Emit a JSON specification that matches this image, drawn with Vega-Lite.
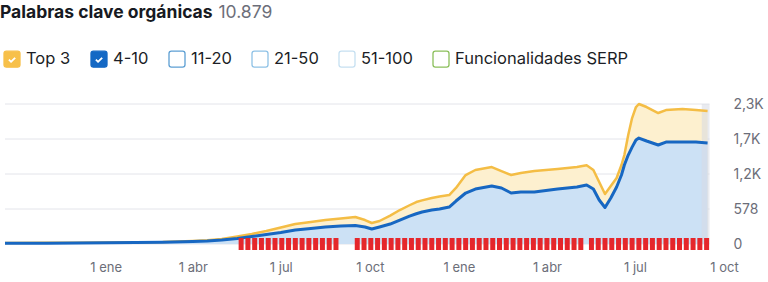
{
  "$schema": "https://vega.github.io/schema/vega-lite/v6.json",
  "width": 730,
  "height": 140,
  "autosize": {"type": "none"},
  "padding": {"left": 0, "top": 104, "right": 38, "bottom": 38},
  "background": "#ffffff",
  "config": {
    "view": {"stroke": null},
    "font": "Inter",
    "legend": {"symbolStrokeWidth": 1.3}
  },
  "datasets": {
    "series": [
      {"date": "2022-09-19", "top": 17, "b": 12},
      {"date": "2022-11-01", "top": 20, "b": 13},
      {"date": "2022-12-01", "top": 22, "b": 17},
      {"date": "2023-01-01", "top": 25, "b": 20},
      {"date": "2023-02-01", "top": 29, "b": 25},
      {"date": "2023-03-01", "top": 33, "b": 30},
      {"date": "2023-04-01", "top": 50, "b": 41},
      {"date": "2023-04-16", "top": 62, "b": 50},
      {"date": "2023-05-01", "top": 83, "b": 66},
      {"date": "2023-05-17", "top": 124, "b": 91},
      {"date": "2023-06-01", "top": 165, "b": 124},
      {"date": "2023-06-16", "top": 215, "b": 157},
      {"date": "2023-07-01", "top": 272, "b": 190},
      {"date": "2023-07-16", "top": 330, "b": 231},
      {"date": "2023-08-01", "top": 363, "b": 256},
      {"date": "2023-08-16", "top": 396, "b": 281},
      {"date": "2023-09-01", "top": 421, "b": 297},
      {"date": "2023-09-16", "top": 446, "b": 305},
      {"date": "2023-09-26", "top": 396, "b": 281},
      {"date": "2023-10-03", "top": 347, "b": 248},
      {"date": "2023-10-11", "top": 380, "b": 281},
      {"date": "2023-10-22", "top": 470, "b": 330},
      {"date": "2023-11-01", "top": 561, "b": 396},
      {"date": "2023-11-11", "top": 640, "b": 460},
      {"date": "2023-11-18", "top": 693, "b": 500},
      {"date": "2023-11-24", "top": 720, "b": 528},
      {"date": "2023-12-04", "top": 759, "b": 560},
      {"date": "2023-12-12", "top": 785, "b": 578},
      {"date": "2023-12-22", "top": 809, "b": 611},
      {"date": "2023-12-29", "top": 925, "b": 710},
      {"date": "2024-01-08", "top": 1139, "b": 842},
      {"date": "2024-01-18", "top": 1222, "b": 908},
      {"date": "2024-02-04", "top": 1271, "b": 958},
      {"date": "2024-02-14", "top": 1205, "b": 925},
      {"date": "2024-02-24", "top": 1139, "b": 842},
      {"date": "2024-03-05", "top": 1172, "b": 859},
      {"date": "2024-03-19", "top": 1205, "b": 859},
      {"date": "2024-04-12", "top": 1238, "b": 908},
      {"date": "2024-05-02", "top": 1271, "b": 941},
      {"date": "2024-05-12", "top": 1300, "b": 974},
      {"date": "2024-05-19", "top": 1222, "b": 908},
      {"date": "2024-05-25", "top": 1024, "b": 726},
      {"date": "2024-05-31", "top": 825, "b": 603},
      {"date": "2024-06-06", "top": 957, "b": 759},
      {"date": "2024-06-12", "top": 1090, "b": 941},
      {"date": "2024-06-17", "top": 1304, "b": 1139},
      {"date": "2024-06-20", "top": 1469, "b": 1304},
      {"date": "2024-06-24", "top": 1800, "b": 1469},
      {"date": "2024-06-28", "top": 2080, "b": 1600},
      {"date": "2024-07-02", "top": 2262, "b": 1717},
      {"date": "2024-07-05", "top": 2312, "b": 1750},
      {"date": "2024-07-13", "top": 2262, "b": 1701},
      {"date": "2024-07-25", "top": 2163, "b": 1635},
      {"date": "2024-08-02", "top": 2212, "b": 1684},
      {"date": "2024-08-19", "top": 2229, "b": 1684},
      {"date": "2024-09-02", "top": 2212, "b": 1684},
      {"date": "2024-09-14", "top": 2196, "b": 1668}
    ],
    "flags": [
      {"date": "2023-05-21"}, {"date": "2023-05-28"}, {"date": "2023-06-04"}, {"date": "2023-06-11"}, {"date": "2023-06-18"},
      {"date": "2023-06-25"}, {"date": "2023-07-02"}, {"date": "2023-07-09"}, {"date": "2023-07-16"}, {"date": "2023-07-23"},
      {"date": "2023-07-30"}, {"date": "2023-08-06"}, {"date": "2023-08-13"}, {"date": "2023-08-20"}, {"date": "2023-08-27"},
      {"date": "2023-09-18"}, {"date": "2023-09-25"}, {"date": "2023-10-02"}, {"date": "2023-10-09"}, {"date": "2023-10-16"},
      {"date": "2023-10-23"}, {"date": "2023-10-30"}, {"date": "2023-11-06"}, {"date": "2023-11-13"}, {"date": "2023-11-20"},
      {"date": "2023-11-27"}, {"date": "2023-12-04"}, {"date": "2023-12-11"}, {"date": "2023-12-18"}, {"date": "2023-12-25"},
      {"date": "2024-01-01"}, {"date": "2024-01-08"}, {"date": "2024-01-15"}, {"date": "2024-01-22"}, {"date": "2024-01-29"},
      {"date": "2024-02-05"}, {"date": "2024-02-12"}, {"date": "2024-02-19"}, {"date": "2024-02-26"}, {"date": "2024-03-04"},
      {"date": "2024-03-11"}, {"date": "2024-03-18"}, {"date": "2024-03-25"}, {"date": "2024-04-01"}, {"date": "2024-04-08"},
      {"date": "2024-04-15"}, {"date": "2024-04-22"}, {"date": "2024-04-29"}, {"date": "2024-05-06"},
      {"date": "2024-05-17"}, {"date": "2024-05-24"}, {"date": "2024-05-31"}, {"date": "2024-06-07"}, {"date": "2024-06-14"},
      {"date": "2024-06-21"}, {"date": "2024-06-28"}, {"date": "2024-07-05"}, {"date": "2024-07-12"}, {"date": "2024-07-19"},
      {"date": "2024-07-26"}, {"date": "2024-08-02"}, {"date": "2024-08-09"}, {"date": "2024-08-16"}, {"date": "2024-08-23"},
      {"date": "2024-08-30"}, {"date": "2024-09-06"}, {"date": "2024-09-13"}
    ],
    "band": [{"start": "2024-09-08", "end": "2024-09-16"}],
    "grid": [{"v": 0}, {"v": 578}, {"v": 1156}, {"v": 1734}, {"v": 2312}],
    "legend": [
      {"serie": "Top 3"}, {"serie": "4-10"}, {"serie": "11-20"}, {"serie": "21-50"}, {"serie": "51-100"}, {"serie": "Funcionalidades SERP"}
    ],
    "header": [{"total": "10.879"}]
  },
  "layer": [
    {
      "data": {"name": "grid"},
      "mark": {"type": "rule", "color": "#e3e4ea", "strokeWidth": 1},
      "encoding": {
        "x": {
          "datum": {"year": 2022, "month": 9, "date": 19, "utc": true}, "type": "temporal",
          "scale": {"domain": [{"year": 2022, "month": 9, "date": 19, "utc": true}, {"year": 2024, "month": 10, "date": 2, "utc": true}]},
          "axis": {
            "title": null, "grid": false, "domain": false, "ticks": false, "tickSize": 0,
            "labelPadding": 17, "labelFontSize": 13, "labelColor": "#6c6e79", "labelFont": "Inter",
            "tickCount": 20,
            "values": [
              {"year": 2023, "month": 1, "date": 1, "utc": true},
              {"year": 2023, "month": 4, "date": 1, "utc": true},
              {"year": 2023, "month": 7, "date": 1, "utc": true},
              {"year": 2023, "month": 10, "date": 1, "utc": true},
              {"year": 2024, "month": 1, "date": 1, "utc": true},
              {"year": 2024, "month": 4, "date": 1, "utc": true},
              {"year": 2024, "month": 7, "date": 1, "utc": true},
              {"year": 2024, "month": 10, "date": 1, "utc": true}
            ],
            "labelExpr": "utcdate(datum.value) + ' ' + ['ene','feb','mar','abr','may','jun','jul','ago','sep','oct','nov','dic'][utcmonth(datum.value)]",
            "labelOverlap": false, "labelFlush": false
          }
        },
        "x2": {"datum": {"year": 2024, "month": 9, "date": 16, "utc": true}},
        "y": {
          "field": "v", "type": "quantitative", "title": null,
          "scale": {"domain": [0, 2312], "nice": false, "zero": true},
          "axis": {
            "orient": "right", "title": null, "grid": false, "domain": false, "ticks": false, "tickSize": 0,
            "labelPadding": 3, "labelFontSize": 14, "labelColor": "#6c6e79", "labelFont": "Inter",
            "labelOverlap": false, "labelFlush": false, "tickCount": 10,
            "values": [0, 578, 1156, 1734, 2312],
            "labelExpr": "datum.value < 1000 ? format(datum.value, 'd') : replace(format(datum.value / 1000, '.1f'), '.', ',') + 'K'"
          }
        }
      }
    },
    {
      "data": {"name": "series"},
      "mark": {"type": "area", "color": "#fdf0cf", "opacity": 1},
      "encoding": {
        "x": {"field": "date", "type": "temporal", "title": null},
        "y": {"field": "top", "type": "quantitative", "title": null}
      }
    },
    {
      "data": {"name": "series"},
      "mark": {"type": "area", "color": "#cce1f5", "opacity": 1},
      "encoding": {
        "x": {"field": "date", "type": "temporal", "title": null},
        "y": {"field": "b", "type": "quantitative", "title": null}
      }
    },
    {
      "data": {"name": "band"},
      "mark": {"type": "rect", "color": "#d7dbe3", "opacity": 0.55},
      "encoding": {
        "x": {"field": "start", "type": "temporal", "title": null},
        "x2": {"field": "end"},
        "y": {"datum": 2312},
        "y2": {"datum": 0}
      }
    },
    {
      "data": {"name": "series"},
      "mark": {"type": "line", "color": "#f4bd45", "strokeWidth": 2.5, "strokeJoin": "round"},
      "encoding": {
        "x": {"field": "date", "type": "temporal", "title": null},
        "y": {"field": "top", "type": "quantitative", "title": null}
      }
    },
    {
      "data": {"name": "series"},
      "mark": {"type": "line", "color": "#1767c2", "strokeWidth": 3, "strokeJoin": "round"},
      "encoding": {
        "x": {"field": "date", "type": "temporal", "title": null},
        "y": {"field": "b", "type": "quantitative", "title": null}
      }
    },
    {
      "data": {"name": "flags"},
      "mark": {"type": "bar", "width": 5, "color": "#e5262b"},
      "encoding": {
        "x": {"field": "date", "type": "temporal", "title": null},
        "y": {"datum": 99},
        "y2": {"datum": -99}
      }
    },
    {
      "data": {"name": "header"},
      "transform": [{"filter": "false"}],
      "mark": {"type": "point", "filled": true},
      "encoding": {
        "opacity": {
          "field": "total", "type": "nominal",
          "scale": {"domain": ["10.879"], "range": [1]},
          "legend": {
            "title": "Palabras clave orgánicas", "titleOrient": "left", "orient": "none", "legendX": 0, "legendY": -100,
            "titleFont": "Inter", "titleFontSize": 17.5, "titleFontWeight": 700, "titleColor": "#171a22", "titleLimit": 400, "titlePadding": 6,
            "labelFont": "Inter", "labelFontSize": 17.5, "labelFontWeight": 400, "labelColor": "#6c6e79", "labelLimit": 200,
            "symbolSize": 0, "symbolOpacity": 0, "symbolStrokeWidth": 0, "labelOffset": -18
          }
        }
      }
    },
    {
      "data": {"name": "legend"},
      "transform": [{"filter": "false"}],
      "mark": {"type": "point", "filled": true, "opacity": 1, "strokeWidth": 1.3},
      "encoding": {
        "fill": {
          "field": "serie", "type": "nominal",
          "scale": {"domain": ["Top 3", "4-10", "11-20", "21-50", "51-100", "Funcionalidades SERP"],
                    "range": ["#f7c04a", "#1468c4", "#ffffff", "#ffffff", "#ffffff", "#ffffff"]},
          "legend": {"title": null, "orient": "none", "legendX": 3, "legendY": -54, "direction": "horizontal",
                     "symbolSize": 256, "labelFontSize": 16.5, "labelFont": "Inter", "labelColor": "#1c1e26",
                     "columnPadding": 17, "labelOffset": 5, "labelLimit": 400, "symbolStrokeWidth": 1.3}
        },
        "stroke": {
          "field": "serie", "type": "nominal",
          "scale": {"domain": ["Top 3", "4-10", "11-20", "21-50", "51-100", "Funcionalidades SERP"],
                    "range": ["#f7c04a", "#1468c4", "#5d9fd3", "#8fc2e6", "#c6e0f1", "#8bbf5b"]},
          "legend": {"title": null, "orient": "none", "legendX": 3, "legendY": -54, "direction": "horizontal",
                     "symbolSize": 256, "labelFontSize": 16.5, "labelFont": "Inter", "labelColor": "#1c1e26",
                     "columnPadding": 17, "labelOffset": 5, "labelLimit": 400, "symbolStrokeWidth": 1.3}
        },
        "shape": {
          "field": "serie", "type": "nominal",
          "scale": {"domain": ["Top 3", "4-10", "11-20", "21-50", "51-100", "Funcionalidades SERP"],
                    "range": [
                      "M -0.7 -1 L 0.7 -1 Q 1 -1 1 -0.7 L 1 0.7 Q 1 1 0.7 1 L -0.7 1 Q -1 1 -1 0.7 L -1 -0.7 Q -1 -1 -0.7 -1 Z M -0.584 0.134 L -0.12 0.599 L 0.584 -0.106 L 0.316 -0.374 L -0.12 0.061 L -0.316 -0.134 Z",
                      "M -0.7 -1 L 0.7 -1 Q 1 -1 1 -0.7 L 1 0.7 Q 1 1 0.7 1 L -0.7 1 Q -1 1 -1 0.7 L -1 -0.7 Q -1 -1 -0.7 -1 Z M -0.584 0.134 L -0.12 0.599 L 0.584 -0.106 L 0.316 -0.374 L -0.12 0.061 L -0.316 -0.134 Z",
                      "M -0.7 -1 L 0.7 -1 Q 1 -1 1 -0.7 L 1 0.7 Q 1 1 0.7 1 L -0.7 1 Q -1 1 -1 0.7 L -1 -0.7 Q -1 -1 -0.7 -1 Z",
                      "M -0.7 -1 L 0.7 -1 Q 1 -1 1 -0.7 L 1 0.7 Q 1 1 0.7 1 L -0.7 1 Q -1 1 -1 0.7 L -1 -0.7 Q -1 -1 -0.7 -1 Z",
                      "M -0.7 -1 L 0.7 -1 Q 1 -1 1 -0.7 L 1 0.7 Q 1 1 0.7 1 L -0.7 1 Q -1 1 -1 0.7 L -1 -0.7 Q -1 -1 -0.7 -1 Z",
                      "M -0.7 -1 L 0.7 -1 Q 1 -1 1 -0.7 L 1 0.7 Q 1 1 0.7 1 L -0.7 1 Q -1 1 -1 0.7 L -1 -0.7 Q -1 -1 -0.7 -1 Z"
                    ]},
          "legend": {"title": null, "orient": "none", "legendX": 3, "legendY": -54, "direction": "horizontal",
                     "symbolSize": 256, "labelFontSize": 16.5, "labelFont": "Inter", "labelColor": "#1c1e26",
                     "columnPadding": 17, "labelOffset": 5, "labelLimit": 400, "symbolStrokeWidth": 1.3}
        }
      }
    }
  ]
}
